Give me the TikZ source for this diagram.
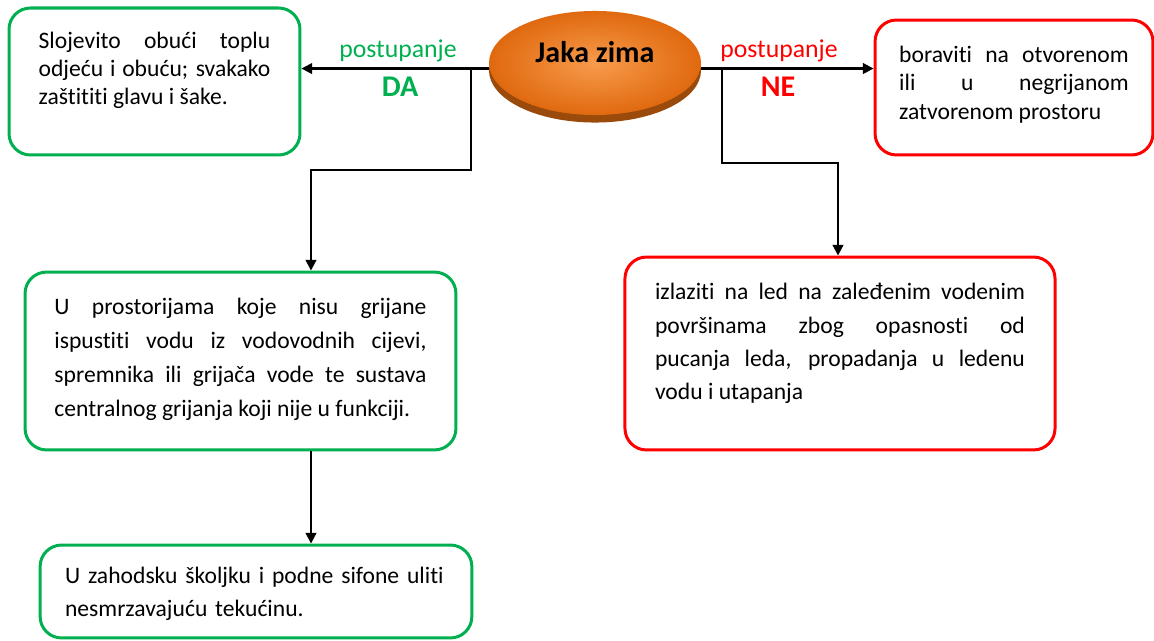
\documentclass[tikz,border=0pt]{standalone}
\usepackage{fontspec}
\setmainfont{Carlito}[Ligatures=NoCommon]
\usetikzlibrary{arrows.meta,shapes.geometric,shadows}
\definecolor{dagreen}{HTML}{00B050}
\definecolor{nered}{HTML}{FF0000}
\definecolor{zimalight}{HTML}{F79B4C}
\definecolor{zimadark}{HTML}{E0690F}
\definecolor{zimashadow}{HTML}{9A4A0B}
\tikzset{
  card/.style={draw, line width=1.4pt, rounded corners=10pt, align=justify, inner ysep=0pt,
    execute at begin node={\hyphenpenalty=10000}},
  dabox/.style={card, draw=dagreen},
  nebox/.style={card, draw=nered},
  arr/.style={-{Triangle[length=5pt,width=5pt]}, line width=1pt},
}
\begin{document}
\begin{tikzpicture}[x=0.466pt, y=-0.466pt]
  \useasboundingbox (0,0) rectangle (1154,641);
  \node[ellipse, minimum width=98.8pt, minimum height=48.5pt, inner sep=0pt,
    shading=radial, inner color=zimalight, outer color=zimadark,
    general shadow={fill=zimashadow, shadow yshift=-3.5pt},
    font=\fontsize{14}{16}\selectfont\bfseries] (zima) at (595,63)
    {\raisebox{5pt}[\height][\depth]{Jaka zima}};
  \node[dabox, text width=108pt, inner xsep=13.8pt, text height=19.1pt, text depth=49.4pt,
    font=\fontsize{11}{13}\selectfont] (da1) at (154.5,81.5)
    {Slojevito obući toplu\linebreak odjeću i obuću; svakako\linebreak zaštititi glavu i šake.};
  \node[nebox, text width=107pt, inner xsep=11.25pt, text height=19.6pt, text depth=43.3pt,
    font=\fontsize{11}{13.3}\selectfont] (ne1) at (1014,87.5)
    {boraviti na otvorenom\linebreak ili u negrijanom\linebreak zatvorenom prostoru};
  \node[dabox, text width=173.4pt, inner xsep=13.7pt, text height=20pt, text depth=62.9pt,
    font=\fontsize{11}{15.8}\selectfont] (da2) at (240.5,361)
    {U prostorijama koje nisu grijane\linebreak ispustiti vodu iz vodovodnih cijevi,\linebreak spremnika ili grijača vode te sustava\linebreak centralnog grijanja koji nije u funkciji.};
  \node[nebox, text width=172.4pt, inner xsep=14pt, text height=20pt, text depth=69.9pt,
    font=\fontsize{11}{15.4}\selectfont] (ne2) at (840,353.5)
    {izlaziti na led na zaleđenim vodenim\linebreak površinama zbog opasnosti od\linebreak pucanja leda, propadanja u ledenu\linebreak vodu i utapanja};
  \node[dabox, align=left, text width=178pt, inner xsep=11.6pt, text height=17.7pt, text depth=25.6pt,
    font=\fontsize{11}{15.4}\selectfont] (da3) at (256,591.5)
    {U zahodsku školjku i podne sifone uliti\\nesmrzavajuću tekućinu.};

  \node[text=dagreen, font=\fontsize{12}{14}\selectfont] (daword) at (398,51) {postupanje};
  \node[text=dagreen, font=\fontsize{14}{16}\selectfont\bfseries] (da) at (400,87) {DA};
  \node[text=nered, font=\fontsize{12}{14}\selectfont] (neword) at (779,51) {postupanje};
  \node[text=nered, font=\fontsize{14}{16}\selectfont\bfseries] (ne) at (778,87) {NE};

  \coordinate (dasplit) at (471,68);
  \coordinate (dabend) at (311,170);
  \coordinate (nesplit) at (722,68);
  \coordinate (nebend) at (838,163);
  \draw[arr] (zima.183) -- (zima.183 -| da1.east);
  \draw[arr] (zima.357) -- (zima.357 -| ne1.west);
  \draw[arr] (dasplit) |- (dabend) -- (dabend |- da2.north);
  \draw[arr] (dabend |- da2.south) -- (dabend |- da3.north);
  \draw[arr] (nesplit) |- (nebend) -- (nebend |- ne2.north);
\end{tikzpicture}
\end{document}
